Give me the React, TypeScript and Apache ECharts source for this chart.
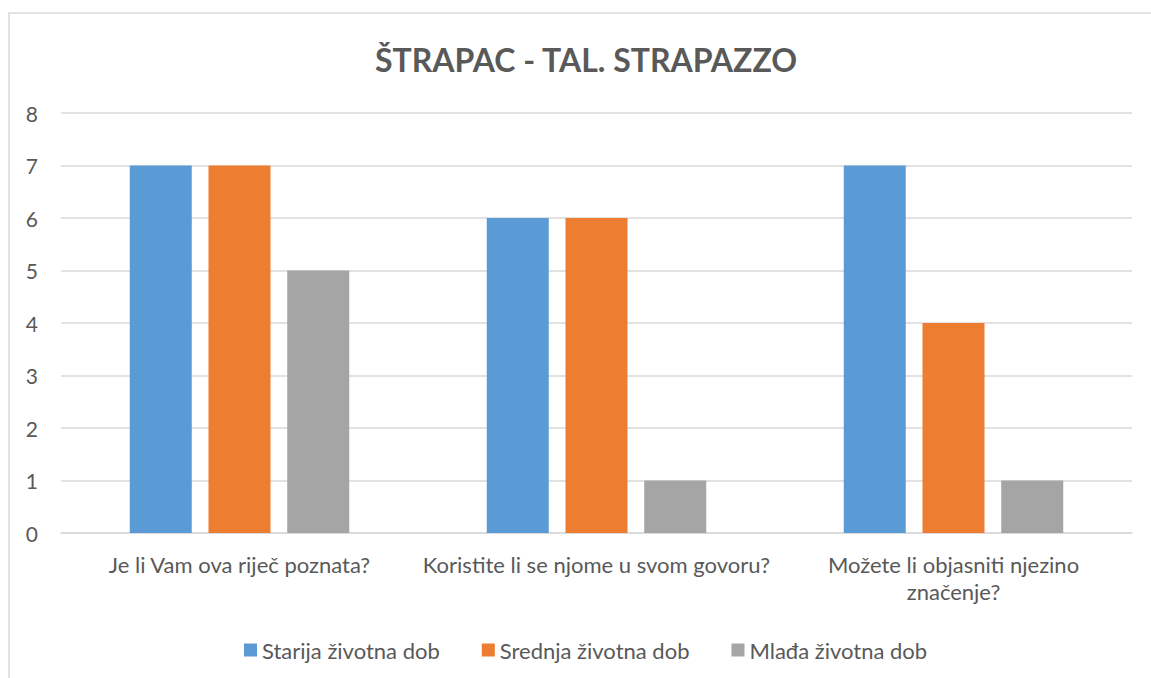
import React, { useEffect, useRef } from "react";
import * as echarts from "echarts";

const categories = [
  "Je li Vam ova riječ poznata?",
  "Koristite li se njome u svom govoru?",
  "Možete li objasniti njezino\nznačenje?",
];
const seriesNames = ["Starija životna dob", "Srednja životna dob", "Mlađa životna dob"];
const starija = [7, 6, 7];
const srednja = [7, 6, 4];
const mlada = [5, 1, 1];
const colors = ["#5B9BD5", "#ED7D31", "#A5A5A5"];
const FONT = "Lato, 'Open Sans', sans-serif";

export default function App() {
  const ref = useRef<HTMLDivElement>(null);
  useEffect(() => {
    if (!ref.current) return;
    const chart = echarts.init(ref.current, null, { renderer: "svg" });
    const data = [starija, srednja, mlada];
    chart.setOption({
      animation: false,
      backgroundColor: "#ffffff",
      textStyle: { fontFamily: FONT },
      title: {
        text: "ŠTRAPAC - TAL. STRAPAZZO",
        left: 370,
        top: 38,
        textStyle: { fontFamily: FONT, fontSize: 32, fontWeight: "bold", color: "#595959" },
      },
      graphic: [
        {
          type: "rect",
          shape: { x: 9, y: 13, width: 1200, height: 720 },
          style: { fill: "none", stroke: "#D9D9D9", lineWidth: 1.5 },
          silent: true,
        },
      ],
      legend: {
        top: 634,
        left: 239,
        itemWidth: 13,
        itemHeight: 13,
        itemGap: 42,
        icon: "rect",
        textStyle: { fontFamily: FONT, fontSize: 22, color: "#595959" },
        data: seriesNames,
      },
      grid: { left: 61, right: 19, top: 113, bottom: 145 },
      xAxis: {
        type: "category",
        data: categories,
        axisLine: { lineStyle: { color: "#D9D9D9", width: 1.5 } },
        axisTick: { show: false },
        axisLabel: {
          fontFamily: FONT,
          fontSize: 22,
          color: "#595959",
          margin: 18,
          lineHeight: 27,
          interval: 0,
        },
      },
      yAxis: {
        type: "value",
        min: 0,
        max: 8,
        interval: 1,
        axisLine: { show: false },
        axisTick: { show: false },
        splitLine: { lineStyle: { color: "#D9D9D9", width: 1.5 } },
        axisLabel: { fontFamily: FONT, fontSize: 21, color: "#595959", margin: 23 },
      },
      series: seriesNames.map((name, i) => ({
        name,
        type: "bar",
        data: data[i],
        barWidth: 62,
        barGap: "27%",
        itemStyle: { color: colors[i] },
      })),
    });
    return () => chart.dispose();
  }, []);
  return (
    <div
      ref={ref}
      style={{ position: "fixed", left: 0, top: 0, width: 1151, height: 678 }}
    />
  );
}
